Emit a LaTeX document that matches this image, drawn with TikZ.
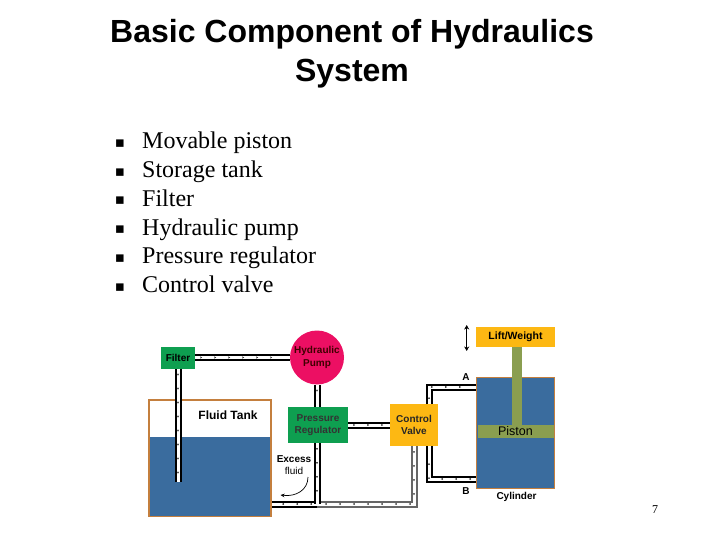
\documentclass[tikz,border=0pt]{standalone}
\usepackage{fontspec}
\setmainfont{Liberation Serif}
\setsansfont{Liberation Sans}
\newfontfamily\symbfont{DejaVu Sans}
\usetikzlibrary{arrows.meta,decorations.markings}
\definecolor{tankbrown}{HTML}{C47F3E}
\definecolor{waterblue}{HTML}{3A6C9E}
\definecolor{boxgreen}{HTML}{0E9F50}
\definecolor{pumppink}{HTML}{EC0F63}
\definecolor{boxyellow}{HTML}{FDB813}
\definecolor{pistongreen}{HTML}{8A9E50}

\begin{document}
\begin{tikzpicture}[x=1pt,y=-1pt,
  comp/.style={draw=none,inner sep=0pt,align=center,font=\sffamily\bfseries\fontsize{10}{12.5}\selectfont},
  caption/.style={inner sep=0pt,align=center,font=\sffamily\bfseries\fontsize{10}{12.5}\selectfont},
  item/.style={anchor=base west,inner sep=0pt,font=\fontsize{24}{28}\selectfont},
  bullet/.style={anchor=base,inner sep=0pt,font=\symbfont\fontsize{15}{18}\selectfont},
  pipe/.style={draw=black,line width=2pt,double=white,double distance=3pt,
    postaction={decorate},
    decoration={markings,mark=between positions 7pt and -4pt step 14pt with {\arrow{Stealth[length=2.2pt,width=2.2pt,black!80]}}}}]
\useasboundingbox (0,0) rectangle (720,540);

\node[inner sep=0pt,align=center,font=\sffamily\bfseries\fontsize{32}{39}\selectfont] (title) at (352,54) {Basic Component of Hydraulics\\System};

\foreach \y/\txt [count=\i] in {149/Movable piston,177.7/Storage tank,206.4/Filter,235.1/Hydraulic pump,263.8/Pressure regulator,292.5/Control valve}{
  \node[bullet] (b\i) at (120,\y-1.5) {▪};
  \node[item] (i\i) at (142,\y) {\txt};
}

\node[draw=tankbrown,line width=2.4pt,fill=white,minimum width=122pt,minimum height=116pt,inner sep=0pt] (tank) at (210,458) {};
\node[fill=waterblue,minimum width=120pt,minimum height=79pt,inner sep=0pt] (water) at (210,476.5) {};
\node[caption,font=\sffamily\bfseries\fontsize{12}{14}\selectfont] (tanktxt) at (228,415) {Fluid Tank};

\node[draw=tankbrown,line width=1.2pt,fill=waterblue,minimum width=78pt,minimum height=111pt,inner sep=0pt] (cyl) at (515.5,433) {};
\node[fill=pistongreen,minimum width=76pt,minimum height=13pt,inner sep=0pt] (piston) at (515.5,431.5) {};
\node[inner sep=0pt,font=\sffamily\fontsize{12.5}{14}\selectfont] (pistontxt) at (515.5,431.5) {Piston};
\node[fill=boxyellow,comp,font=\sffamily\bfseries\fontsize{10.5}{12.5}\selectfont,minimum width=79pt,minimum height=20pt] (lift) at (515.5,337) {Lift/Weight};
\node[fill=pistongreen,minimum width=10.5pt,minimum height=78pt,inner sep=0pt] (rod) at (516.8,386) {};

\node[fill=boxgreen,comp,minimum width=34pt,minimum height=22pt] (filter) at (178,357.5) {Filter};
\node[fill=pumppink,comp,circle,minimum size=54pt,text=black!75!red] (pump) at (317,357.5) {Hydraulic\\Pump};
\node[fill=boxgreen,comp,minimum width=60pt,minimum height=36pt,text=black!80] (reg) at (318,425) {Pressure\\Regulator};
\node[fill=boxyellow,comp,minimum width=48pt,minimum height=42pt,text=black!85] (valve) at (414,425) {Control\\Valve};

\coordinate (tankend) at (178,482);
\coordinate (retjoin) at (317,504);
\coordinate (retcorner) at (414,504);
\coordinate (acorner) at (429,387);
\coordinate (bcorner) at (429,479);

\draw[pipe] (filter.south) -- (tankend);
\draw[pipe] (filter.east) -- (pump.west);
\draw[pipe] (pump.south) -- (317,407);
\draw[pipe] (reg.east |- valve.west) -- (valve.west);
\draw[pipe,draw=black!60] (valve.south) -- (retcorner) -- (retjoin);
\draw[pipe] (retjoin) -- (tank.east |- retjoin);
\draw[pipe] (317,443) -- (retjoin);
\draw[pipe] (429,404) -- (acorner) -- (cyl.west |- acorner);
\draw[pipe] (cyl.west |- bcorner) -- (bcorner) -- (429,446);

\coordinate (liftup) at (466.7,325);
\coordinate (liftdown) at (466.7,351);
\draw[{Stealth[length=4.5pt,width=5pt]}-{Stealth[length=4.5pt,width=5pt]},line width=0.9pt] (liftup) -- (liftdown);

\node[caption] (atxt) at (466,377) {A};
\node[caption] (btxt) at (466,491) {B};
\node[caption] (cyltxt) at (516.5,497) {Cylinder};
\node[caption] (excess) at (294,465) {Excess\\[-1pt]\mdseries fluid};
\coordinate (exstart) at (308,477);
\coordinate (exend) at (280.5,495);
\draw[-{Stealth[length=4pt,width=3.5pt]},line width=0.7pt] (exstart) .. controls (308,490) and (296,497) .. (exend);

\node[inner sep=0pt,font=\fontsize{12}{14}\selectfont] (pageno) at (655,510) {7};
\end{tikzpicture}
\end{document}
